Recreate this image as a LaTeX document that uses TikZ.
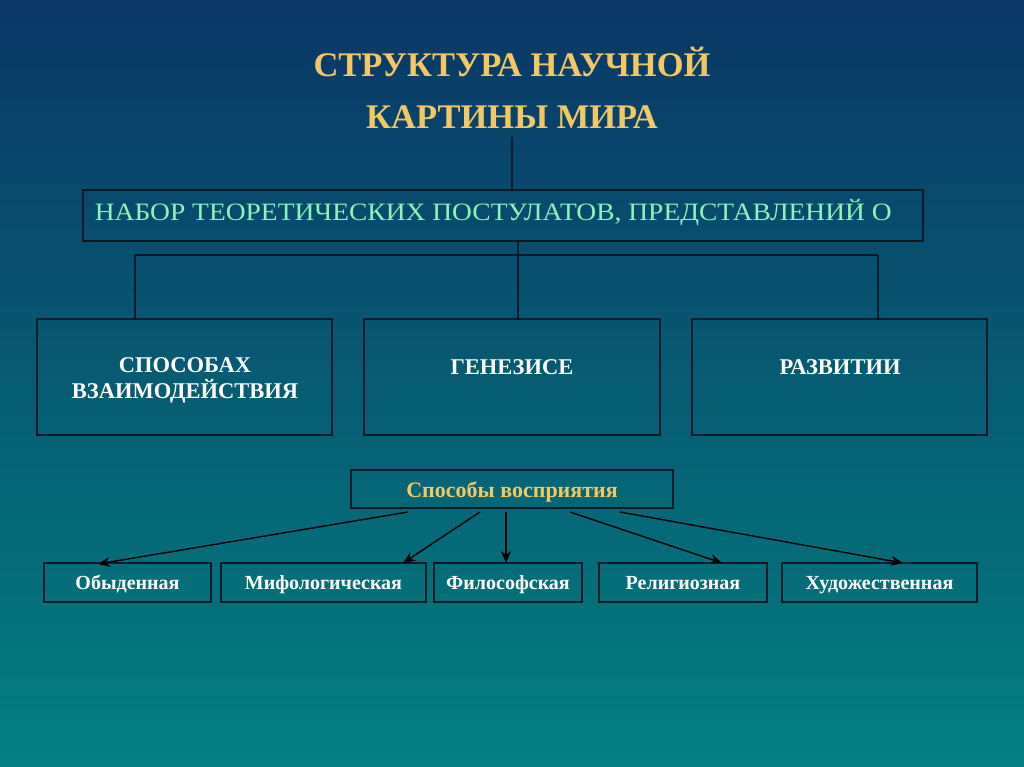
\documentclass[tikz,border=0pt]{standalone}
\usepackage{fontspec}
\setmainfont{Liberation Serif}
\usetikzlibrary{arrows.meta}
\definecolor{bgtop}{HTML}{0A3766}
\definecolor{bgbot}{HTML}{03807F}
\definecolor{gold}{HTML}{F2C864}
\definecolor{mint}{HTML}{8CF5B4}
\definecolor{edge}{HTML}{0A1A26}
\tikzset{
  box/.style={draw=edge, line width=1.2pt, inner sep=0pt},
  conn/.style={draw=edge, line width=1.2pt},
  arr/.style={draw=black, line width=1.4pt, -{Stealth[length=12pt,width=10pt]}},
  titletext/.style={text=gold, font=\fontsize{34.5}{40}\selectfont\bfseries},
  midtext/.style={text=white, font=\fontsize{22.5}{26}\selectfont\bfseries, align=center},
  lowtext/.style={text=white, font=\fontsize{20}{24}\selectfont\bfseries, anchor=base},
}
\begin{document}
\begin{tikzpicture}[x=1pt,y=-1pt]
\useasboundingbox (0,0) rectangle (1024,767);
\shade[top color=bgtop, bottom color=bgbot] (0,0) rectangle (1024,767);
% title
\node[titletext, anchor=base] (t1) at (512,77) {СТРУКТУРА НАУЧНОЙ};
\node[titletext, anchor=base] (t2) at (512,129) {КАРТИНЫ МИРА};
% top box
\node[box, minimum width=840pt, minimum height=51pt] (top) at (503,215.5) {};
\node[text=mint, font=\fontsize{25}{29}\selectfont, anchor=base west, xscale=1.1] (toptext) at (91,221) {НАБОР ТЕОРЕТИЧЕСКИХ ПОСТУЛАТОВ, ПРЕДСТАВЛЕНИЙ О};
\coordinate (tstart) at (512,137);
\draw[conn] (tstart) -- (512,190);
% three boxes
\node[box, minimum width=295pt, minimum height=116pt] (b1) at (184.5,377) {};
\node[box, minimum width=296pt, minimum height=116pt] (b2) at (512,377) {};
\node[box, minimum width=295pt, minimum height=116pt] (b3) at (839.5,377) {};
\node[midtext] at (185,380.5) {СПОСОБАХ\\ВЗАИМОДЕЙСТВИЯ};
\node[midtext] at (512,367) {ГЕНЕЗИСЕ};
\node[midtext] at (840,367) {РАЗВИТИИ};
\coordinate (j0) at (518,255);
\coordinate (j1) at (135,255);
\coordinate (j3) at (878,255);
\draw[conn] (518,241) -- (j0);
\draw[conn] (j1) -- (j3);
\draw[conn] (j1) -- (135,319);
\draw[conn] (j0) -- (518,319);
\draw[conn] (j3) -- (878,319);
% perception
\node[box, minimum width=322pt, minimum height=38pt] (sp) at (512,489) {};
\node[text=gold, font=\fontsize{22}{26}\selectfont\bfseries, anchor=base] at (512,497) {Способы восприятия};
% bottom boxes
\node[box, minimum width=167pt, minimum height=39pt] (o1) at (127.5,582.5) {};
\node[box, minimum width=205pt, minimum height=39pt] (o2) at (323.5,582.5) {};
\node[box, minimum width=148pt, minimum height=39pt] (o3) at (508,582.5) {};
\node[box, minimum width=168pt, minimum height=39pt] (o4) at (683,582.5) {};
\node[box, minimum width=195pt, minimum height=39pt] (o5) at (879.5,582.5) {};
\node[lowtext] at (127.5,589) {Обыденная};
\node[lowtext] at (323.5,589) {Мифологическая};
\node[lowtext] at (508,589) {Философская};
\node[lowtext] at (683,589) {Религиозная};
\node[lowtext] at (879.5,589) {Художественная};
\draw[arr] (408,512) -- (98,564);
\draw[arr] (480,512) -- (403,563);
\draw[arr] (506,512) -- (506,563);
\draw[arr] (570,512) -- (722,563);
\draw[arr] (620,512) -- (903,563);
\end{tikzpicture}
\end{document}
